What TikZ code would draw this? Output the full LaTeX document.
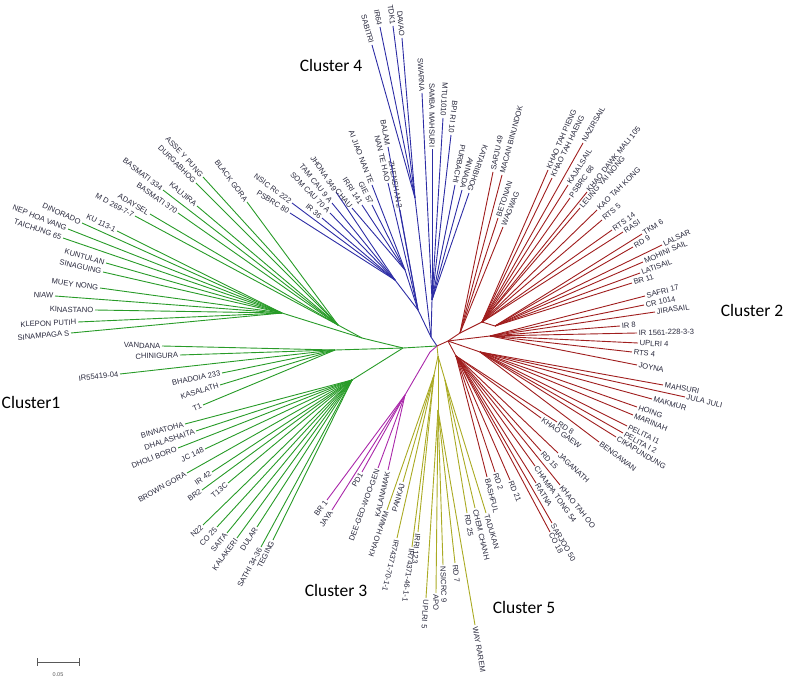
\documentclass[tikz,border=0pt]{standalone}
\usepackage{fontspec}
\setmainfont{Liberation Sans}
\newfontfamily\clfont{Carlito}
\definecolor{gc}{RGB}{40,155,40}
\definecolor{bc}{RGB}{45,45,165}
\definecolor{rc}{RGB}{160,30,30}
\definecolor{pc}{RGB}{170,40,170}
\definecolor{yc}{RGB}{170,170,35}
\definecolor{labc}{RGB}{40,40,60}
\tikzset{
  lab/.style={font=\fontsize{7.6}{8}\selectfont, text=labc, inner xsep=1.6pt, inner ysep=0pt},
  br/.style={line width=0.9pt},
  cl/.style={font=\clfont\fontsize{17.5}{20}\selectfont, text=black, inner sep=0pt},
}
\newcommand\tleaf[7][a]{%
  \coordinate (#2) at (#4,#5);
  \draw[br,#6] (#3) -- (#2);
  \pgfmathanglebetweenpoints{\pgfpointanchor{#3}{center}}{\pgfpointanchor{#2}{center}}%
  \let\lrot\pgfmathresult
  \pgfmathanglebetweenpoints{\pgfpointanchor{root}{center}}{\pgfpointanchor{#2}{center}}%
  \pgfmathsetmacro\lpos{\pgfmathresult>180 ? \pgfmathresult-360 : \pgfmathresult}%
  \pgfmathtruncatemacro\lflip{or(\lpos>75,\lpos<-102)}%
  \if f#1\def\lflip{1}\fi
  \if n#1\def\lflip{0}\fi
  \ifnum\lflip=1
    \pgfmathsetmacro\lrr{\lrot+180}%
    \node[lab,anchor=east,rotate=\lrr] (#2l) at (#2) {#7};
  \else
    \node[lab,anchor=west,rotate=\lrot] (#2l) at (#2) {#7};
  \fi
}
\begin{document}
\begin{tikzpicture}[x=1pt,y=-1pt]
\useasboundingbox (0,0) rectangle (787,684);
\coordinate (root) at (437,346);
% ---------- internal nodes
\coordinate (g1) at (403,348);
\coordinate (gU) at (362,338);
\coordinate (gA) at (338,325);
\coordinate (gJ) at (282,313);
\coordinate (gM) at (335,350);
\coordinate (gL) at (352,380);
\draw[br,gc] (root) -- (g1);
\draw[br,gc] (g1) -- (gU);
\draw[br,gc] (gU) -- (gA);
\draw[br,gc] (gU) -- (gJ);
\draw[br,gc] (g1) -- (gM);
\draw[br,gc] (g1) -- (gL);
\coordinate (b0) at (431,337);
\coordinate (bL) at (418,310);
\coordinate (bL1) at (395,280);
\coordinate (bL2) at (405,270);
\coordinate (bT) at (415,198);
\coordinate (bR) at (432,300);
\draw[br,bc] (root) -- (b0);
\draw[br,bc] (b0) -- (bL);
\draw[br,bc] (bL) -- (bL1);
\draw[br,bc] (bL) -- (bL2);
\draw[br,bc] (b0) -- (bT);
\draw[br,bc] (b0) -- (bR);
\coordinate (r0) at (448,341);
\coordinate (r1) at (460,333);
\coordinate (rB) at (482,322);
\coordinate (rB2) at (495,326);
\coordinate (rC) at (490,336);
\coordinate (rD) at (480,352);
\coordinate (rE) at (456,356);
\draw[br,rc] (root) -- (r0);
\draw[br,rc] (r0) -- (r1);
\draw[br,rc] (r1) -- (rB);
\draw[br,rc] (rB) -- (rB2);
\draw[br,rc] (r0) -- (rC);
\draw[br,rc] (r0) -- (rD);
\draw[br,rc] (r0) -- (rE);
\coordinate (y0) at (438,356);
\coordinate (yA) at (434,375);
\coordinate (yN) at (438,410);
\coordinate (yT) at (445,380);
\draw[br,yc] (root) -- (y0);
\draw[br,yc] (y0) -- (yA);
\draw[br,yc] (y0) -- (yN);
\draw[br,yc] (y0) -- (yT);
\coordinate (p0) at (430,352);
\coordinate (p1) at (405,395);
\draw[br,pc] (root) -- (p0);
\draw[br,pc] (p0) -- (p1);
% ---------- Cluster 1 (green)
\tleaf{asse}{gA}{203}{177}{gc}{ASSE Y PUNG}
\tleaf{durg}{gA}{196}{183}{gc}{DURGABHOG}
\tleaf{blkg}{gA}{247}{202}{gc}{BLACK GORA}
\tleaf{kali}{gA}{197}{206}{gc}{KALIJIRA}
\tleaf{bas3}{gA}{163}{190}{gc}{BASMATI 334}
\tleaf{bas7}{gA}{178}{213}{gc}{BASMATI 370}
\tleaf{aday}{gA}{150}{214}{gc}{ADAYSEL}
\tleaf{md}{gA}{135}{216}{gc}{M D 269-7-7}
\tleaf{ku}{gJ}{117}{231}{gc}{KU 113-1}
\tleaf{dino}{gJ}{82}{223}{gc}{DINORADO}
\tleaf{nep}{gJ}{68}{229}{gc}{NEP HOA VANG}
\tleaf{taic}{gJ}{63}{238}{gc}{TAICHUNG 65}
\tleaf{kunt}{gJ}{106}{263}{gc}{KUNTULAN}
\tleaf{sing}{gJ}{103}{272}{gc}{SINAGUING}
\tleaf{muey}{gJ}{100}{288}{gc}{MUEY NONG}
\tleaf{niaw}{gJ}{55}{296}{gc}{NIAW}
\tleaf{kina}{gJ}{95}{310}{gc}{KINASTANO}
\tleaf{klep}{gJ}{78}{322}{gc}{KLEPON PUTIH}
\tleaf{sina}{gJ}{71}{333}{gc}{SINAMPAGA S}
\tleaf{vand}{gM}{162}{346}{gc}{VANDANA}
\tleaf{chin}{gM}{180}{355}{gc}{CHINIGURA}
\tleaf{irf}{gM}{120}{374}{gc}{IR55419-04}
\tleaf{bhad}{gM}{222}{373}{gc}{BHADOIA 233}
\tleaf{kasa}{gM}{220}{385}{gc}{KASALATH}
\tleaf{tone}{gM}{203}{405}{gc}{T1}
\tleaf{binn}{gL}{185}{424}{gc}{BINNATOHA}
\tleaf{dhal}{gL}{196}{431}{gc}{DHALASHAITA}
\tleaf{dhol}{gL}{178}{448}{gc}{DHOLI BORO}
\tleaf{jc}{gL}{205}{449}{gc}{JC 148}
\tleaf{brow}{gL}{187}{473}{gc}{BROWN GORA}
\tleaf{irff}{gL}{212}{472}{gc}{IR 42}
\tleaf{brtwo}{gL}{202}{490}{gc}{BR2}
\tleaf{tth}{gL}{228}{483}{gc}{T13C}
\tleaf{ntt}{gL}{203}{525}{gc}{N22}
\tleaf{coz}{gL}{217}{527}{gc}{CO 25}
\tleaf{sait}{gL}{227}{533}{gc}{SAITA}
\tleaf{kala}{gL}{237}{538}{gc}{KALAKERI}
\tleaf{dula}{gL}{257}{527}{gc}{DULAR}
\tleaf{sath}{gL}{261}{547}{gc}{SATHI 34-36}
\tleaf{tegi}{gL}{273}{540}{gc}{TEGING}
% ---------- Cluster 4 (blue)
\tleaf{nsic}{bL1}{292}{203}{bc}{NSIC Rc 222}
\tleaf{psbe}{bL1}{290}{213}{bc}{PSBRC 80}
\tleaf{irts}{bL1}{322}{218}{bc}{IR 36}
\tleaf{somc}{bL1}{330}{213}{bc}{SOM CAU 70 A}
\tleaf{tamc}{bL1}{332}{203}{bc}{TAM CAU 9 A}
\tleaf{jhon}{bL1}{336}{192}{bc}{JHONA 349}
\tleaf{chau}{bL2}{352}{208}{bc}{CHAU}
\tleaf{irri}{bL2}{362}{205}{bc}{IRRI 141}
\tleaf{gie}{bL2}{372}{205}{bc}{GIE 57}
\tleaf{aiji}{bL2}{372}{185}{bc}{AI JIAO NAN TE}
\tleaf{nant}{bL}{388}{183}{bc}{NAN TE HAO}
\tleaf{zhen}{bL}{400}{210}{bc}{ZHENSHAN 2}
\tleaf{bala}{bL}{388}{147}{bc}{BALAM}
\tleaf{sabi}{bT}{372}{45}{bc}{SABITRI}
\tleaf{irsf}{bT}{380}{27}{bc}{IR64}
\tleaf{tdk}{bT}{393}{26}{bc}{TDK1}
\tleaf{dava}{bT}{402}{38}{bc}{DAVAO}
\tleaf{swar}{bR}{422}{93}{bc}{SWARNA}
\tleaf{samb}{bR}{432}{149}{bc}{SAMBA MAHSURI}
\tleaf{mtu}{bR}{443}{118}{bc}{MTU1010}
\tleaf{bpi}{bR}{451}{135}{bc}{BPI RI 10}
\tleaf{purb}{bR}{455}{185}{bc}{PURBACHI}
\tleaf{anna}{bR}{462}{190}{bc}{ANNADA}
\tleaf{kata}{bR}{469}{193}{bc}{KATARIBHOG}
% ---------- Cluster 2 (red)
\tleaf{sarj}{r1}{493}{172}{rc}{SARJU 49}
\tleaf{maca}{r1}{502}{175}{rc}{MACAN BINUNDOK}
\tleaf{beto}{r1}{498}{218}{rc}{BETONAN}
\tleaf{wagw}{r1}{503}{227}{rc}{WAGWAG}
\tleaf{ktp}{rB}{548}{170}{rc}{KHAO TAH PIENG}
\tleaf{kth}{rB}{552}{178}{rc}{KHAO TAH HAENG}
\tleaf{nazi}{rB}{583}{143}{rc}{NAZIRSAIL}
\tleaf{kaja}{rB}{568}{185}{rc}{KAJALSAIL}
\tleaf{psbs}{rB}{570}{198}{rc}{PSBRC 68}
\tleaf{kdm}{rB}{587}{192}{rc}{KHAO DAWK MALI 105}
\tleaf{leun}{rB}{580}{208}{rc}{LEUNG YAI NONG}
\tleaf{ktk}{rB}{597}{210}{rc}{KAO TAH KONG}
\tleaf{rtsf}{rB}{602}{220}{rc}{RTS 5}
\tleaf{rtsft}{rB}{612}{230}{rc}{RTS 14}
\tleaf{rasi}{rB}{623}{232}{rc}{RASI}
\tleaf{tkm}{rB2}{642}{234}{rc}{TKM 6}
\tleaf{rdn}{rB2}{633}{247}{rc}{RD 9}
\tleaf{lals}{rB2}{662}{245}{rc}{LALSAR}
\tleaf{mohi}{rB2}{643}{262}{rc}{MOHINI SAIL}
\tleaf{lati}{rB2}{640}{273}{rc}{LATISAIL}
\tleaf{brel}{rB2}{632}{283}{rc}{BR 11}
\tleaf{safr}{rC}{645}{296}{rc}{SAFRI 17}
\tleaf{cr}{rC}{644}{305}{rc}{CR 1014}
\tleaf{jira}{rC}{655}{312}{rc}{JIRASAIL}
\tleaf{ire}{rC}{620}{326}{rc}{IR 8}
\tleaf{irfs}{rC}{637}{333}{rc}{IR 1561-228-3-3}
\tleaf{uplf}{rC}{638}{343}{rc}{UPLRI 4}
\tleaf{rtsfo}{rC}{632}{352}{rc}{RTS 4}
\tleaf{joyn}{rC}{637}{365}{rc}{JOYNA}
\tleaf{mahs}{rD}{663}{385}{rc}{MAHSURI}
\tleaf{jula}{rD}{685}{397}{rc}{JULA JULI}
\tleaf{makm}{rD}{652}{399}{rc}{MAKMUR}
\tleaf{hoin}{rD}{637}{407}{rc}{HOING}
\tleaf{mari}{rD}{633}{415}{rc}{MARINAH}
\tleaf{peli}{rD}{627}{426}{rc}{PELITA I1}
\tleaf{pelt}{rD}{623}{433}{rc}{PELITA I 2}
\tleaf{cika}{rD}{616}{437}{rc}{CIKAPUNDUNG}
\tleaf{beng}{rD}{599}{442}{rc}{BENGAWAN}
\tleaf{rde}{rE}{557}{422}{rc}{RD 8}
\tleaf{khg}{rE}{541}{418}{rc}{KHAO GAEW}
\tleaf{jaga}{rE}{558}{453}{rc}{JAGANATH}
\tleaf{rdf}{rE}{541}{451}{rc}{RD 15}
\tleaf{ktoo}{rE}{560}{485}{rc}{KHAO TAH OO}
\tleaf{chmp}{rE}{535}{466}{rc}{CHAMPA TONG 54}
\tleaf{ratn}{rE}{536}{483}{rc}{RATNA}
\tleaf{sjf}{rE}{552}{523}{rc}{SARJOO 50}
\tleaf{coe}{rE}{550}{532}{rc}{CO 18}
\tleaf{rdto}{rE}{510}{480}{rc}{RD 21}
\tleaf{rdt}{rE}{495}{472}{rc}{RD 2}
\tleaf{bash}{rE}{487}{477}{rc}{BASHFUL}
% ---------- Cluster 5 (olive)
\tleaf{pank}{yA}{403}{482}{yc}{PANKAJ}
\tleaf{khh}{yA}{387}{510}{yc}{KHAO HAWM}
\tleaf[n]{irsv}{yA}{397}{538}{yc}{IR74371-70-1-1}
\tleaf{irfo}{yA}{412}{547}{yc}{IR74371-46-1-1}
\tleaf{irrt}{yA}{418}{532}{yc}{IRRI 123}
\tleaf{upfi}{yN}{426}{598}{yc}{UPLRI 5}
\tleaf{apo}{yN}{436}{593}{yc}{APO}
\tleaf{nsnine}{yN}{443}{565}{yc}{NSICRC 9}
\tleaf{rdsv}{yN}{455}{563}{yc}{RD 7}
\tleaf{wayr}{yN}{475}{625}{yc}{WAY RAREM}
\tleaf{rdtf}{yT}{467}{513}{yc}{RD 25}
\tleaf{chem}{yT}{475}{508}{yc}{CHEM CHANH}
\tleaf{tadu}{yT}{486}{513}{yc}{TADUKAN}
% ---------- Cluster 3 (purple)
\tleaf{brone}{p1}{327}{500}{pc}{BR 1}
\tleaf{jaya}{p1}{332}{510}{pc}{JAYA}
\tleaf{pdone}{p1}{362}{472}{pc}{PD1}
\tleaf{dgwg}{p1}{378}{468}{pc}{DEE-GEO-WOO-GEN}
\tleaf{kaln}{p1}{388}{470}{pc}{KALANAMAK}
% ---------- cluster names
\node[cl] (c4) at (331,65) {Cluster 4};
\node[cl] (c2) at (752,310) {Cluster 2};
\node[cl] (c1) at (31,402) {Cluster1};
\node[cl] (c3) at (336,590) {Cluster 3};
\node[cl] (c5) at (524,607) {Cluster 5};
% ---------- scale bar
\coordinate (sa) at (37,662);
\coordinate (sb) at (80,662);
\draw[line width=0.8pt,black!65,|-|] (sa) -- (sb);
\node[font=\fontsize{5.5}{6}\selectfont,text=black!65] (sl) at (58,675) {0.05};
\end{tikzpicture}
\end{document}
